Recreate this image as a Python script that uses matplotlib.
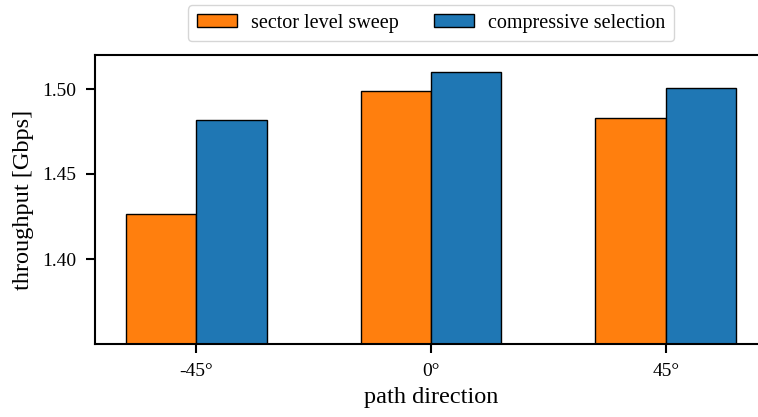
import numpy as np
import matplotlib
matplotlib.use("Agg")
import matplotlib.pyplot as plt

plt.rcParams['font.family'] = ['Liberation Serif', 'DejaVu Serif']

# path directions and measured throughput per method
directions = ['-45°', '0°', '45°']
sls_throughput = [1.4262, 1.4991, 1.4829]
cs_throughput = [1.4819, 1.5099, 1.5008]

bar_width = 0.3
x = np.arange(len(directions))

fig = plt.figure(figsize=(7.58, 4.17), dpi=100)
ax = fig.add_axes([95 / 758, 1 - 344 / 417, 672 / 758, 289 / 417])

ax.bar(x - bar_width / 2, sls_throughput, bar_width, color='#ff7f0e',
       edgecolor='black', linewidth=1.0, label='sector level sweep')
ax.bar(x + bar_width / 2, cs_throughput, bar_width, color='#1f77b4',
       edgecolor='black', linewidth=1.0, label='compressive selection')

ax.set_xlim(-0.43, 2.43)
ax.set_ylim(1.35, 1.52)
ax.set_yticks([1.40, 1.45, 1.50])
ax.set_yticklabels(['1.40', '1.45', '1.50'])
ax.set_xticks(x)
ax.set_xticklabels(directions)

for side in ['left', 'bottom', 'top', 'right']:
    ax.spines[side].set_linewidth(1.5)
ax.tick_params(axis='both', direction='out', length=6.5, width=1.5,
               labelsize=14, pad=7)

ax.set_xlabel('path direction', fontsize=17.5, labelpad=5)
ax.set_ylabel('throughput [Gbps]', fontsize=17.5, labelpad=6)

ax.legend(loc='lower center', bbox_to_anchor=(0.5, 1.015), ncol=2,
          fontsize=14.5, frameon=True, fancybox=True, edgecolor='#cccccc',
          handlelength=2.0, handleheight=0.65, handletextpad=0.7,
          columnspacing=1.75, borderpad=0.4)

fig.savefig('out.png', dpi=100)
